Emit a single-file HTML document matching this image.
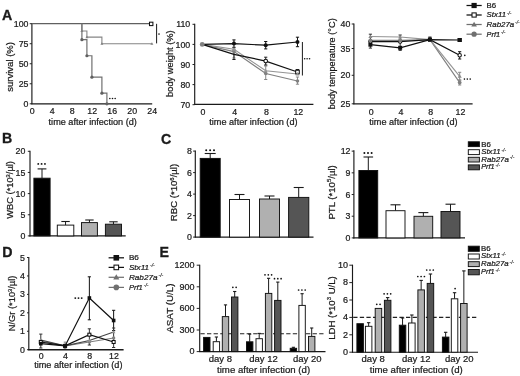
<!DOCTYPE html>
<html><head><meta charset="utf-8"><style>
html,body{margin:0;padding:0;background:#fff;}
svg{display:block;font-family:"Liberation Sans", sans-serif;filter:grayscale(1) blur(0.3px);}
</style></head><body>
<svg width="520" height="376" viewBox="0 0 520 376">
<rect width="520" height="376" fill="#fff"/>
<text x="1.90" y="19.50" font-size="14.2" text-anchor="start" font-weight="bold" font-style="normal" fill="#1a1a1a" stroke="#1a1a1a" stroke-width="0.3">A</text>
<line x1="31.90" y1="23.20" x2="31.90" y2="104.30" stroke="#1a1a1a" stroke-width="1.15"/>
<line x1="29.70" y1="103.80" x2="31.90" y2="103.80" stroke="#1a1a1a" stroke-width="0.95"/>
<text x="28.50" y="106.90" font-size="8.8" text-anchor="end" font-weight="normal" font-style="normal" fill="#1a1a1a" stroke="#1a1a1a" stroke-width="0.22">0</text>
<line x1="29.70" y1="83.77" x2="31.90" y2="83.77" stroke="#1a1a1a" stroke-width="0.95"/>
<text x="28.50" y="86.87" font-size="8.8" text-anchor="end" font-weight="normal" font-style="normal" fill="#1a1a1a" stroke="#1a1a1a" stroke-width="0.22">25</text>
<line x1="29.70" y1="63.75" x2="31.90" y2="63.75" stroke="#1a1a1a" stroke-width="0.95"/>
<text x="28.50" y="66.85" font-size="8.8" text-anchor="end" font-weight="normal" font-style="normal" fill="#1a1a1a" stroke="#1a1a1a" stroke-width="0.22">50</text>
<line x1="29.70" y1="43.72" x2="31.90" y2="43.72" stroke="#1a1a1a" stroke-width="0.95"/>
<text x="28.50" y="46.82" font-size="8.8" text-anchor="end" font-weight="normal" font-style="normal" fill="#1a1a1a" stroke="#1a1a1a" stroke-width="0.22">75</text>
<line x1="29.70" y1="23.70" x2="31.90" y2="23.70" stroke="#1a1a1a" stroke-width="0.95"/>
<text x="28.50" y="26.80" font-size="8.8" text-anchor="end" font-weight="normal" font-style="normal" fill="#1a1a1a" stroke="#1a1a1a" stroke-width="0.22">100</text>
<line x1="31.40" y1="103.80" x2="152.20" y2="103.80" stroke="#1a1a1a" stroke-width="1.15"/>
<text x="32.20" y="114.40" font-size="8.8" text-anchor="middle" font-weight="normal" font-style="normal" fill="#1a1a1a" stroke="#1a1a1a" stroke-width="0.22">0</text>
<text x="52.20" y="114.40" font-size="8.8" text-anchor="middle" font-weight="normal" font-style="normal" fill="#1a1a1a" stroke="#1a1a1a" stroke-width="0.22">4</text>
<text x="72.20" y="114.40" font-size="8.8" text-anchor="middle" font-weight="normal" font-style="normal" fill="#1a1a1a" stroke="#1a1a1a" stroke-width="0.22">8</text>
<text x="92.20" y="114.40" font-size="8.8" text-anchor="middle" font-weight="normal" font-style="normal" fill="#1a1a1a" stroke="#1a1a1a" stroke-width="0.22">12</text>
<text x="112.20" y="114.40" font-size="8.8" text-anchor="middle" font-weight="normal" font-style="normal" fill="#1a1a1a" stroke="#1a1a1a" stroke-width="0.22">16</text>
<text x="132.20" y="114.40" font-size="8.8" text-anchor="middle" font-weight="normal" font-style="normal" fill="#1a1a1a" stroke="#1a1a1a" stroke-width="0.22">20</text>
<text x="152.20" y="114.40" font-size="8.8" text-anchor="middle" font-weight="normal" font-style="normal" fill="#1a1a1a" stroke="#1a1a1a" stroke-width="0.22">24</text>
<text x="92.70" y="124.80" font-size="9.15" text-anchor="middle" font-weight="normal" font-style="normal" fill="#1a1a1a" stroke="#1a1a1a" stroke-width="0.22">time after infection (d)</text>
<text x="13.00" y="66.90" font-size="9.5" text-anchor="middle" font-weight="normal" font-style="normal" fill="#1a1a1a" stroke="#1a1a1a" stroke-width="0.22" transform="rotate(-90 13.00 66.90)">survival (%)</text>
<polyline points="31.90,23.70 151.90,23.70" fill="none" stroke="#606060" stroke-width="1.3" stroke-linejoin="miter"/>
<polyline points="81.90,23.70 81.90,30.99 86.90,30.99 86.90,37.08 101.90,37.08 101.90,43.72 151.90,43.72" fill="none" stroke="#858585" stroke-width="1.1" stroke-linejoin="miter"/>
<polyline points="81.90,23.70 81.90,39.72 86.90,39.72 86.90,55.74 91.90,55.74 91.90,77.13 101.90,77.13 101.90,93.15 106.90,93.15 106.90,103.80" fill="none" stroke="#707070" stroke-width="1.2" stroke-linejoin="miter"/>
<circle cx="81.90" cy="39.72" r="1.60" fill="#606060"/>
<circle cx="86.90" cy="55.74" r="1.60" fill="#606060"/>
<circle cx="91.90" cy="77.13" r="1.60" fill="#606060"/>
<circle cx="101.90" cy="93.15" r="1.60" fill="#606060"/>
<circle cx="106.90" cy="103.80" r="1.60" fill="#606060"/>
<polygon points="81.90,29.49 83.40,32.09 80.41,32.09" fill="#808080"/>
<polygon points="86.90,35.58 88.40,38.18 85.41,38.18" fill="#808080"/>
<polygon points="101.90,42.23 103.40,44.83 100.41,44.83" fill="#808080"/>
<polygon points="151.90,42.23 153.40,44.83 150.41,44.83" fill="#808080"/>
<rect x="149.50" y="22.20" width="3.40" height="3.40" fill="#fff" stroke="#111" stroke-width="1.05"/>
<line x1="156.60" y1="23.80" x2="156.60" y2="43.40" stroke="#1a1a1a" stroke-width="1.0"/>
<circle cx="159.00" cy="34.10" r="0.8" fill="#111"/>
<circle cx="109.85" cy="98.50" r="0.8" fill="#111"/>
<circle cx="112.50" cy="98.50" r="0.8" fill="#111"/>
<circle cx="115.15" cy="98.50" r="0.8" fill="#111"/>
<line x1="194.70" y1="23.80" x2="194.70" y2="104.80" stroke="#1a1a1a" stroke-width="1.15"/>
<line x1="192.50" y1="24.30" x2="194.70" y2="24.30" stroke="#1a1a1a" stroke-width="0.95"/>
<text x="190.20" y="27.40" font-size="8.8" text-anchor="end" font-weight="normal" font-style="normal" fill="#1a1a1a" stroke="#1a1a1a" stroke-width="0.22">110</text>
<line x1="192.50" y1="44.40" x2="194.70" y2="44.40" stroke="#1a1a1a" stroke-width="0.95"/>
<text x="190.20" y="47.50" font-size="8.8" text-anchor="end" font-weight="normal" font-style="normal" fill="#1a1a1a" stroke="#1a1a1a" stroke-width="0.22">100</text>
<line x1="192.50" y1="64.50" x2="194.70" y2="64.50" stroke="#1a1a1a" stroke-width="0.95"/>
<text x="190.20" y="67.60" font-size="8.8" text-anchor="end" font-weight="normal" font-style="normal" fill="#1a1a1a" stroke="#1a1a1a" stroke-width="0.22">90</text>
<line x1="192.50" y1="84.60" x2="194.70" y2="84.60" stroke="#1a1a1a" stroke-width="0.95"/>
<text x="190.20" y="87.70" font-size="8.8" text-anchor="end" font-weight="normal" font-style="normal" fill="#1a1a1a" stroke="#1a1a1a" stroke-width="0.22">80</text>
<line x1="192.50" y1="104.70" x2="194.70" y2="104.70" stroke="#1a1a1a" stroke-width="0.95"/>
<text x="190.20" y="107.80" font-size="8.8" text-anchor="end" font-weight="normal" font-style="normal" fill="#1a1a1a" stroke="#1a1a1a" stroke-width="0.22">70</text>
<line x1="194.20" y1="104.30" x2="313.40" y2="104.30" stroke="#1a1a1a" stroke-width="1.15"/>
<text x="203.00" y="115.40" font-size="8.8" text-anchor="middle" font-weight="normal" font-style="normal" fill="#1a1a1a" stroke="#1a1a1a" stroke-width="0.22">0</text>
<text x="234.76" y="115.40" font-size="8.8" text-anchor="middle" font-weight="normal" font-style="normal" fill="#1a1a1a" stroke="#1a1a1a" stroke-width="0.22">4</text>
<text x="266.52" y="115.40" font-size="8.8" text-anchor="middle" font-weight="normal" font-style="normal" fill="#1a1a1a" stroke="#1a1a1a" stroke-width="0.22">8</text>
<text x="298.28" y="115.40" font-size="8.8" text-anchor="middle" font-weight="normal" font-style="normal" fill="#1a1a1a" stroke="#1a1a1a" stroke-width="0.22">12</text>
<text x="253.40" y="124.80" font-size="9.15" text-anchor="middle" font-weight="normal" font-style="normal" fill="#1a1a1a" stroke="#1a1a1a" stroke-width="0.22">time after infection (d)</text>
<text x="173.00" y="63.60" font-size="9.3" text-anchor="middle" font-weight="normal" font-style="normal" fill="#1a1a1a" stroke="#1a1a1a" stroke-width="0.22" transform="rotate(-90 173.00 63.60)">body weight (%)</text>
<line x1="233.96" y1="48.00" x2="233.96" y2="58.00" stroke="#888" stroke-width="1.0"/>
<line x1="232.36" y1="48.00" x2="235.56" y2="48.00" stroke="#888" stroke-width="1.0"/>
<line x1="232.36" y1="58.00" x2="235.56" y2="58.00" stroke="#888" stroke-width="1.0"/>
<line x1="265.72" y1="66.00" x2="265.72" y2="79.50" stroke="#888" stroke-width="1.0"/>
<line x1="264.12" y1="66.00" x2="267.32" y2="66.00" stroke="#888" stroke-width="1.0"/>
<line x1="264.12" y1="79.50" x2="267.32" y2="79.50" stroke="#888" stroke-width="1.0"/>
<line x1="297.48" y1="77.00" x2="297.48" y2="84.20" stroke="#888" stroke-width="1.0"/>
<line x1="295.88" y1="77.00" x2="299.08" y2="77.00" stroke="#888" stroke-width="1.0"/>
<line x1="295.88" y1="84.20" x2="299.08" y2="84.20" stroke="#888" stroke-width="1.0"/>
<line x1="233.96" y1="50.00" x2="233.96" y2="59.50" stroke="#222" stroke-width="1.0"/>
<line x1="232.36" y1="50.00" x2="235.56" y2="50.00" stroke="#222" stroke-width="1.0"/>
<line x1="232.36" y1="59.50" x2="235.56" y2="59.50" stroke="#222" stroke-width="1.0"/>
<line x1="265.72" y1="57.20" x2="265.72" y2="65.00" stroke="#222" stroke-width="1.0"/>
<line x1="264.12" y1="57.20" x2="267.32" y2="57.20" stroke="#222" stroke-width="1.0"/>
<line x1="264.12" y1="65.00" x2="267.32" y2="65.00" stroke="#222" stroke-width="1.0"/>
<line x1="297.48" y1="69.50" x2="297.48" y2="74.50" stroke="#222" stroke-width="1.0"/>
<line x1="295.88" y1="69.50" x2="299.08" y2="69.50" stroke="#222" stroke-width="1.0"/>
<line x1="295.88" y1="74.50" x2="299.08" y2="74.50" stroke="#222" stroke-width="1.0"/>
<line x1="233.96" y1="39.90" x2="233.96" y2="47.30" stroke="#111" stroke-width="1.0"/>
<line x1="232.36" y1="39.90" x2="235.56" y2="39.90" stroke="#111" stroke-width="1.0"/>
<line x1="232.36" y1="47.30" x2="235.56" y2="47.30" stroke="#111" stroke-width="1.0"/>
<line x1="265.72" y1="41.50" x2="265.72" y2="48.90" stroke="#111" stroke-width="1.0"/>
<line x1="264.12" y1="41.50" x2="267.32" y2="41.50" stroke="#111" stroke-width="1.0"/>
<line x1="264.12" y1="48.90" x2="267.32" y2="48.90" stroke="#111" stroke-width="1.0"/>
<line x1="297.48" y1="37.20" x2="297.48" y2="46.70" stroke="#111" stroke-width="1.0"/>
<line x1="295.88" y1="37.20" x2="299.08" y2="37.20" stroke="#111" stroke-width="1.0"/>
<line x1="295.88" y1="46.70" x2="299.08" y2="46.70" stroke="#111" stroke-width="1.0"/>
<polyline points="202.20,44.40 233.96,51.60 265.72,73.50 297.48,81.00" fill="none" stroke="#808080" stroke-width="1.1" stroke-linejoin="miter"/>
<polyline points="202.20,44.40 233.96,49.20 265.72,70.70 297.48,74.00" fill="none" stroke="#949494" stroke-width="1.1" stroke-linejoin="miter"/>
<polyline points="202.20,44.40 233.96,54.30 265.72,61.10 297.48,72.00" fill="none" stroke="#111" stroke-width="1.2" stroke-linejoin="miter"/>
<polyline points="202.20,44.40 233.96,43.60 265.72,45.20 297.48,42.00" fill="none" stroke="#111" stroke-width="1.2" stroke-linejoin="miter"/>
<circle cx="265.72" cy="61.10" r="1.80" fill="#fff" stroke="#111" stroke-width="1.05"/>
<rect x="295.68" y="70.20" width="3.60" height="3.60" fill="#fff" stroke="#111" stroke-width="1.05"/>
<circle cx="233.96" cy="51.60" r="1.80" fill="#808080"/>
<circle cx="265.72" cy="73.50" r="1.80" fill="#808080"/>
<circle cx="297.48" cy="81.00" r="1.80" fill="#808080"/>
<polygon points="233.96,47.25 235.91,50.65 232.00,50.65" fill="#949494"/>
<polygon points="265.72,68.75 267.67,72.14 263.76,72.14" fill="#949494"/>
<polygon points="297.48,72.05 299.44,75.44 295.53,75.44" fill="#949494"/>
<circle cx="233.96" cy="43.60" r="2.00" fill="#111"/>
<circle cx="265.72" cy="45.20" r="2.00" fill="#111"/>
<circle cx="297.48" cy="42.00" r="2.00" fill="#111"/>
<circle cx="202.20" cy="44.40" r="2.40" fill="#808080"/>
<line x1="302.40" y1="42.00" x2="302.40" y2="75.50" stroke="#1a1a1a" stroke-width="1.0"/>
<circle cx="304.65" cy="58.80" r="0.8" fill="#111"/>
<circle cx="307.10" cy="58.80" r="0.8" fill="#111"/>
<circle cx="309.55" cy="58.80" r="0.8" fill="#111"/>
<line x1="353.90" y1="23.50" x2="353.90" y2="104.30" stroke="#1a1a1a" stroke-width="1.15"/>
<line x1="351.70" y1="24.00" x2="353.90" y2="24.00" stroke="#1a1a1a" stroke-width="0.95"/>
<text x="350.40" y="27.10" font-size="8.8" text-anchor="end" font-weight="normal" font-style="normal" fill="#1a1a1a" stroke="#1a1a1a" stroke-width="0.22">40</text>
<line x1="351.70" y1="48.50" x2="353.90" y2="48.50" stroke="#1a1a1a" stroke-width="0.95"/>
<text x="350.40" y="51.60" font-size="8.8" text-anchor="end" font-weight="normal" font-style="normal" fill="#1a1a1a" stroke="#1a1a1a" stroke-width="0.22">35</text>
<line x1="351.70" y1="75.30" x2="353.90" y2="75.30" stroke="#1a1a1a" stroke-width="0.95"/>
<text x="350.40" y="78.40" font-size="8.8" text-anchor="end" font-weight="normal" font-style="normal" fill="#1a1a1a" stroke="#1a1a1a" stroke-width="0.22">20</text>
<line x1="351.70" y1="103.80" x2="353.90" y2="103.80" stroke="#1a1a1a" stroke-width="0.95"/>
<text x="350.40" y="106.90" font-size="8.8" text-anchor="end" font-weight="normal" font-style="normal" fill="#1a1a1a" stroke="#1a1a1a" stroke-width="0.22">25</text>
<line x1="353.40" y1="103.80" x2="472.60" y2="103.80" stroke="#1a1a1a" stroke-width="1.15"/>
<text x="371.20" y="114.80" font-size="8.8" text-anchor="middle" font-weight="normal" font-style="normal" fill="#1a1a1a" stroke="#1a1a1a" stroke-width="0.22">0</text>
<text x="400.96" y="114.80" font-size="8.8" text-anchor="middle" font-weight="normal" font-style="normal" fill="#1a1a1a" stroke="#1a1a1a" stroke-width="0.22">4</text>
<text x="430.72" y="114.80" font-size="8.8" text-anchor="middle" font-weight="normal" font-style="normal" fill="#1a1a1a" stroke="#1a1a1a" stroke-width="0.22">8</text>
<text x="460.48" y="114.80" font-size="8.8" text-anchor="middle" font-weight="normal" font-style="normal" fill="#1a1a1a" stroke="#1a1a1a" stroke-width="0.22">12</text>
<text x="413.40" y="124.80" font-size="9.15" text-anchor="middle" font-weight="normal" font-style="normal" fill="#1a1a1a" stroke="#1a1a1a" stroke-width="0.22">time after infection (d)</text>
<text x="335.00" y="63.80" font-size="9.2" text-anchor="middle" font-weight="normal" font-style="normal" fill="#1a1a1a" stroke="#1a1a1a" stroke-width="0.22" transform="rotate(-90 335.00 63.80)">body temperature (°C)</text>
<line x1="370.40" y1="34.20" x2="370.40" y2="48.10" stroke="#333" stroke-width="1.0"/>
<line x1="368.80" y1="34.20" x2="372.00" y2="34.20" stroke="#333" stroke-width="1.0"/>
<line x1="368.80" y1="48.10" x2="372.00" y2="48.10" stroke="#333" stroke-width="1.0"/>
<line x1="400.16" y1="35.00" x2="400.16" y2="50.40" stroke="#333" stroke-width="1.0"/>
<line x1="398.56" y1="35.00" x2="401.76" y2="35.00" stroke="#333" stroke-width="1.0"/>
<line x1="398.56" y1="50.40" x2="401.76" y2="50.40" stroke="#333" stroke-width="1.0"/>
<line x1="429.92" y1="37.00" x2="429.92" y2="41.50" stroke="#333" stroke-width="1.0"/>
<line x1="428.32" y1="37.00" x2="431.52" y2="37.00" stroke="#333" stroke-width="1.0"/>
<line x1="428.32" y1="41.50" x2="431.52" y2="41.50" stroke="#333" stroke-width="1.0"/>
<line x1="459.68" y1="51.70" x2="459.68" y2="59.00" stroke="#111" stroke-width="1.0"/>
<line x1="458.08" y1="51.70" x2="461.28" y2="51.70" stroke="#111" stroke-width="1.0"/>
<line x1="458.08" y1="59.00" x2="461.28" y2="59.00" stroke="#111" stroke-width="1.0"/>
<line x1="459.68" y1="72.30" x2="459.68" y2="80.00" stroke="#888" stroke-width="1.0"/>
<line x1="458.08" y1="72.30" x2="461.28" y2="72.30" stroke="#888" stroke-width="1.0"/>
<line x1="458.08" y1="80.00" x2="461.28" y2="80.00" stroke="#888" stroke-width="1.0"/>
<line x1="459.68" y1="80.20" x2="459.68" y2="85.00" stroke="#888" stroke-width="1.0"/>
<line x1="458.08" y1="80.20" x2="461.28" y2="80.20" stroke="#888" stroke-width="1.0"/>
<line x1="458.08" y1="85.00" x2="461.28" y2="85.00" stroke="#888" stroke-width="1.0"/>
<polyline points="370.40,40.40 400.16,40.40 429.92,39.60 459.68,82.60" fill="none" stroke="#808080" stroke-width="1.1" stroke-linejoin="miter"/>
<polyline points="370.40,36.50 400.16,37.00 429.92,39.60 459.68,76.30" fill="none" stroke="#949494" stroke-width="1.1" stroke-linejoin="miter"/>
<polyline points="370.40,41.60 400.16,41.60 429.92,39.60 459.68,55.20" fill="none" stroke="#111" stroke-width="1.2" stroke-linejoin="miter"/>
<polyline points="370.40,44.70 400.16,47.80 429.92,39.60 459.68,40.00" fill="none" stroke="#111" stroke-width="1.2" stroke-linejoin="miter"/>
<circle cx="370.40" cy="41.60" r="1.70" fill="#fff" stroke="#111" stroke-width="1.05"/>
<circle cx="400.16" cy="41.60" r="1.70" fill="#fff" stroke="#111" stroke-width="1.05"/>
<circle cx="429.92" cy="39.60" r="1.70" fill="#fff" stroke="#111" stroke-width="1.05"/>
<circle cx="459.68" cy="55.20" r="1.70" fill="#fff" stroke="#111" stroke-width="1.05"/>
<circle cx="370.40" cy="40.40" r="1.90" fill="#808080"/>
<circle cx="400.16" cy="40.40" r="1.90" fill="#808080"/>
<circle cx="429.92" cy="39.60" r="1.90" fill="#808080"/>
<circle cx="459.68" cy="82.60" r="1.90" fill="#808080"/>
<polygon points="370.40,34.43 372.47,38.03 368.33,38.03" fill="#8a8a8a"/>
<polygon points="400.16,34.93 402.23,38.53 398.09,38.53" fill="#8a8a8a"/>
<polygon points="429.92,37.53 431.99,41.13 427.85,41.13" fill="#8a8a8a"/>
<polygon points="459.68,74.23 461.75,77.83 457.61,77.83" fill="#8a8a8a"/>
<rect x="368.40" y="42.70" width="4.00" height="4.00" fill="#111"/>
<rect x="398.16" y="45.80" width="4.00" height="4.00" fill="#111"/>
<rect x="427.92" y="37.60" width="4.00" height="4.00" fill="#111"/>
<rect x="457.68" y="38.00" width="4.00" height="4.00" fill="#111"/>
<rect x="457.68" y="38.00" width="4.00" height="4.00" fill="#111"/>
<circle cx="464.80" cy="55.40" r="0.8" fill="#111"/>
<circle cx="464.40" cy="79.10" r="0.8" fill="#111"/>
<circle cx="467.30" cy="79.10" r="0.8" fill="#111"/>
<circle cx="470.20" cy="79.10" r="0.8" fill="#111"/>
<line x1="466.50" y1="5.50" x2="481.70" y2="5.50" stroke="#111" stroke-width="1.25"/>
<rect x="471.50" y="2.90" width="5.20" height="5.20" fill="#111"/>
<text x="486.60" y="7.80" font-size="7.4" font-style="normal" fill="#1a1a1a" stroke="#1a1a1a" stroke-width="0.22" textLength="9.60" lengthAdjust="spacingAndGlyphs">B6</text>
<line x1="466.50" y1="15.00" x2="481.70" y2="15.00" stroke="#111" stroke-width="1.25"/>
<rect x="472.00" y="12.90" width="4.20" height="4.20" fill="#fff" stroke="#111" stroke-width="1.05"/>
<text x="486.60" y="17.30" font-size="7.4" font-style="italic" fill="#1a1a1a" stroke="#1a1a1a" stroke-width="0.22" textLength="19.40" lengthAdjust="spacingAndGlyphs">Stx11</text>
<text x="506.90" y="14.80" font-size="4.88" font-style="italic" fill="#1a1a1a" stroke="#1a1a1a" stroke-width="0.15">-/-</text>
<line x1="466.50" y1="24.50" x2="481.70" y2="24.50" stroke="#707070" stroke-width="1.25"/>
<polygon points="474.10,21.66 476.94,26.60 471.26,26.60" fill="#707070"/>
<text x="486.60" y="26.80" font-size="7.4" font-style="italic" fill="#1a1a1a" stroke="#1a1a1a" stroke-width="0.22" textLength="27.60" lengthAdjust="spacingAndGlyphs">Rab27a</text>
<text x="515.10" y="24.30" font-size="4.88" font-style="italic" fill="#1a1a1a" stroke="#1a1a1a" stroke-width="0.15">-/-</text>
<line x1="466.50" y1="34.20" x2="481.70" y2="34.20" stroke="#707070" stroke-width="1.25"/>
<circle cx="474.10" cy="34.20" r="2.60" fill="#707070"/>
<text x="486.60" y="36.50" font-size="7.4" font-style="italic" fill="#1a1a1a" stroke="#1a1a1a" stroke-width="0.22" textLength="13.40" lengthAdjust="spacingAndGlyphs">Prf1</text>
<text x="500.90" y="34.00" font-size="4.88" font-style="italic" fill="#1a1a1a" stroke="#1a1a1a" stroke-width="0.15">-/-</text>
<text x="1.90" y="142.60" font-size="14.2" text-anchor="start" font-weight="bold" font-style="normal" fill="#1a1a1a" stroke="#1a1a1a" stroke-width="0.3">B</text>
<line x1="30.00" y1="150.80" x2="30.00" y2="236.40" stroke="#1a1a1a" stroke-width="1.15"/>
<line x1="27.80" y1="235.90" x2="30.00" y2="235.90" stroke="#1a1a1a" stroke-width="0.95"/>
<text x="25.40" y="239.00" font-size="8.8" text-anchor="end" font-weight="normal" font-style="normal" fill="#1a1a1a" stroke="#1a1a1a" stroke-width="0.22">0</text>
<line x1="27.80" y1="214.75" x2="30.00" y2="214.75" stroke="#1a1a1a" stroke-width="0.95"/>
<text x="25.40" y="217.85" font-size="8.8" text-anchor="end" font-weight="normal" font-style="normal" fill="#1a1a1a" stroke="#1a1a1a" stroke-width="0.22">5</text>
<line x1="27.80" y1="193.60" x2="30.00" y2="193.60" stroke="#1a1a1a" stroke-width="0.95"/>
<text x="25.40" y="196.70" font-size="8.8" text-anchor="end" font-weight="normal" font-style="normal" fill="#1a1a1a" stroke="#1a1a1a" stroke-width="0.22">10</text>
<line x1="27.80" y1="172.45" x2="30.00" y2="172.45" stroke="#1a1a1a" stroke-width="0.95"/>
<text x="25.40" y="175.55" font-size="8.8" text-anchor="end" font-weight="normal" font-style="normal" fill="#1a1a1a" stroke="#1a1a1a" stroke-width="0.22">15</text>
<line x1="27.80" y1="151.30" x2="30.00" y2="151.30" stroke="#1a1a1a" stroke-width="0.95"/>
<text x="25.40" y="154.40" font-size="8.8" text-anchor="end" font-weight="normal" font-style="normal" fill="#1a1a1a" stroke="#1a1a1a" stroke-width="0.22">20</text>
<line x1="29.50" y1="235.90" x2="125.70" y2="235.90" stroke="#1a1a1a" stroke-width="1.15"/>
<line x1="42.00" y1="168.90" x2="42.00" y2="178.20" stroke="#1a1a1a" stroke-width="1.0"/>
<line x1="37.60" y1="168.90" x2="46.40" y2="168.90" stroke="#1a1a1a" stroke-width="1.1"/>
<rect x="33.90" y="178.20" width="16.20" height="57.70" fill="#000" stroke="#111" stroke-width="0.95"/>
<line x1="65.55" y1="221.50" x2="65.55" y2="225.10" stroke="#1a1a1a" stroke-width="1.0"/>
<line x1="61.35" y1="221.50" x2="69.75" y2="221.50" stroke="#1a1a1a" stroke-width="1.1"/>
<rect x="57.30" y="225.10" width="16.50" height="10.80" fill="#fff" stroke="#111" stroke-width="0.95"/>
<line x1="89.45" y1="220.00" x2="89.45" y2="222.60" stroke="#1a1a1a" stroke-width="1.0"/>
<line x1="85.25" y1="220.00" x2="93.65" y2="220.00" stroke="#1a1a1a" stroke-width="1.1"/>
<rect x="81.50" y="222.60" width="15.90" height="13.30" fill="#b0b0b0" stroke="#111" stroke-width="0.95"/>
<line x1="113.45" y1="221.80" x2="113.45" y2="224.20" stroke="#1a1a1a" stroke-width="1.0"/>
<line x1="109.25" y1="221.80" x2="117.65" y2="221.80" stroke="#1a1a1a" stroke-width="1.1"/>
<rect x="105.40" y="224.20" width="16.10" height="11.70" fill="#555555" stroke="#111" stroke-width="0.95"/>
<circle cx="38.25" cy="163.90" r="0.95" fill="#111"/>
<circle cx="41.60" cy="163.90" r="0.95" fill="#111"/>
<circle cx="44.95" cy="163.90" r="0.95" fill="#111"/>
<text x="12.90" y="189.90" font-size="9.3" text-anchor="middle" fill="#1a1a1a" stroke="#1a1a1a" stroke-width="0.22" transform="rotate(-90 12.90 189.90)">WBC (*10<tspan font-size="5.77" dy="-3.35">3</tspan><tspan dy="3.35">/µl)</tspan></text>
<text x="161.00" y="143.60" font-size="14.2" text-anchor="start" font-weight="bold" font-style="normal" fill="#1a1a1a" stroke="#1a1a1a" stroke-width="0.3">C</text>
<line x1="195.30" y1="150.60" x2="195.30" y2="237.60" stroke="#1a1a1a" stroke-width="1.15"/>
<line x1="193.10" y1="237.10" x2="195.30" y2="237.10" stroke="#1a1a1a" stroke-width="0.95"/>
<text x="191.90" y="240.20" font-size="8.8" text-anchor="end" font-weight="normal" font-style="normal" fill="#1a1a1a" stroke="#1a1a1a" stroke-width="0.22">0</text>
<line x1="193.10" y1="215.60" x2="195.30" y2="215.60" stroke="#1a1a1a" stroke-width="0.95"/>
<text x="191.90" y="218.70" font-size="8.8" text-anchor="end" font-weight="normal" font-style="normal" fill="#1a1a1a" stroke="#1a1a1a" stroke-width="0.22">2</text>
<line x1="193.10" y1="194.10" x2="195.30" y2="194.10" stroke="#1a1a1a" stroke-width="0.95"/>
<text x="191.90" y="197.20" font-size="8.8" text-anchor="end" font-weight="normal" font-style="normal" fill="#1a1a1a" stroke="#1a1a1a" stroke-width="0.22">4</text>
<line x1="193.10" y1="172.60" x2="195.30" y2="172.60" stroke="#1a1a1a" stroke-width="0.95"/>
<text x="191.90" y="175.70" font-size="8.8" text-anchor="end" font-weight="normal" font-style="normal" fill="#1a1a1a" stroke="#1a1a1a" stroke-width="0.22">6</text>
<line x1="193.10" y1="151.10" x2="195.30" y2="151.10" stroke="#1a1a1a" stroke-width="0.95"/>
<text x="191.90" y="154.20" font-size="8.8" text-anchor="end" font-weight="normal" font-style="normal" fill="#1a1a1a" stroke="#1a1a1a" stroke-width="0.22">8</text>
<line x1="194.80" y1="237.10" x2="313.50" y2="237.10" stroke="#1a1a1a" stroke-width="1.15"/>
<line x1="210.20" y1="153.50" x2="210.20" y2="158.40" stroke="#1a1a1a" stroke-width="1.0"/>
<line x1="204.70" y1="153.50" x2="215.70" y2="153.50" stroke="#1a1a1a" stroke-width="1.1"/>
<rect x="200.20" y="158.40" width="20.00" height="78.70" fill="#000" stroke="#111" stroke-width="0.95"/>
<line x1="239.50" y1="194.50" x2="239.50" y2="199.50" stroke="#1a1a1a" stroke-width="1.0"/>
<line x1="234.50" y1="194.50" x2="244.50" y2="194.50" stroke="#1a1a1a" stroke-width="1.1"/>
<rect x="229.50" y="199.50" width="20.00" height="37.60" fill="#fff" stroke="#111" stroke-width="0.95"/>
<line x1="269.50" y1="196.00" x2="269.50" y2="199.00" stroke="#1a1a1a" stroke-width="1.0"/>
<line x1="264.50" y1="196.00" x2="274.50" y2="196.00" stroke="#1a1a1a" stroke-width="1.1"/>
<rect x="259.50" y="199.00" width="20.00" height="38.10" fill="#b0b0b0" stroke="#111" stroke-width="0.95"/>
<line x1="298.70" y1="187.50" x2="298.70" y2="197.40" stroke="#1a1a1a" stroke-width="1.0"/>
<line x1="293.70" y1="187.50" x2="303.70" y2="187.50" stroke="#1a1a1a" stroke-width="1.1"/>
<rect x="288.60" y="197.40" width="20.20" height="39.70" fill="#555555" stroke="#111" stroke-width="0.95"/>
<circle cx="206.20" cy="150.20" r="1.0" fill="#111"/>
<circle cx="210.10" cy="150.20" r="1.0" fill="#111"/>
<circle cx="214.00" cy="150.20" r="1.0" fill="#111"/>
<text x="177.30" y="192.50" font-size="9.6" text-anchor="middle" fill="#1a1a1a" stroke="#1a1a1a" stroke-width="0.22" transform="rotate(-90 177.30 192.50)">RBC (*10<tspan font-size="5.95" dy="-3.46">6</tspan><tspan dy="3.46">/µl)</tspan></text>
<line x1="353.90" y1="150.30" x2="353.90" y2="238.40" stroke="#1a1a1a" stroke-width="1.15"/>
<line x1="351.70" y1="237.90" x2="353.90" y2="237.90" stroke="#1a1a1a" stroke-width="0.95"/>
<text x="350.50" y="241.00" font-size="8.8" text-anchor="end" font-weight="normal" font-style="normal" fill="#1a1a1a" stroke="#1a1a1a" stroke-width="0.22">0</text>
<line x1="351.70" y1="216.21" x2="353.90" y2="216.21" stroke="#1a1a1a" stroke-width="0.95"/>
<text x="350.50" y="219.31" font-size="8.8" text-anchor="end" font-weight="normal" font-style="normal" fill="#1a1a1a" stroke="#1a1a1a" stroke-width="0.22">3</text>
<line x1="351.70" y1="194.52" x2="353.90" y2="194.52" stroke="#1a1a1a" stroke-width="0.95"/>
<text x="350.50" y="197.62" font-size="8.8" text-anchor="end" font-weight="normal" font-style="normal" fill="#1a1a1a" stroke="#1a1a1a" stroke-width="0.22">6</text>
<line x1="351.70" y1="172.83" x2="353.90" y2="172.83" stroke="#1a1a1a" stroke-width="0.95"/>
<text x="350.50" y="175.93" font-size="8.8" text-anchor="end" font-weight="normal" font-style="normal" fill="#1a1a1a" stroke="#1a1a1a" stroke-width="0.22">9</text>
<line x1="351.70" y1="151.14" x2="353.90" y2="151.14" stroke="#1a1a1a" stroke-width="0.95"/>
<text x="350.50" y="154.24" font-size="8.8" text-anchor="end" font-weight="normal" font-style="normal" fill="#1a1a1a" stroke="#1a1a1a" stroke-width="0.22">12</text>
<line x1="353.40" y1="237.90" x2="465.00" y2="237.90" stroke="#1a1a1a" stroke-width="1.15"/>
<line x1="368.30" y1="157.00" x2="368.30" y2="170.50" stroke="#1a1a1a" stroke-width="1.0"/>
<line x1="363.50" y1="157.00" x2="373.10" y2="157.00" stroke="#1a1a1a" stroke-width="1.1"/>
<rect x="358.90" y="170.50" width="18.80" height="67.40" fill="#000" stroke="#111" stroke-width="0.95"/>
<line x1="395.50" y1="204.80" x2="395.50" y2="210.70" stroke="#1a1a1a" stroke-width="1.0"/>
<line x1="390.50" y1="204.80" x2="400.50" y2="204.80" stroke="#1a1a1a" stroke-width="1.1"/>
<rect x="386.00" y="210.70" width="19.00" height="27.20" fill="#fff" stroke="#111" stroke-width="0.95"/>
<line x1="423.35" y1="212.60" x2="423.35" y2="216.30" stroke="#1a1a1a" stroke-width="1.0"/>
<line x1="418.35" y1="212.60" x2="428.35" y2="212.60" stroke="#1a1a1a" stroke-width="1.1"/>
<rect x="414.00" y="216.30" width="18.70" height="21.60" fill="#b0b0b0" stroke="#111" stroke-width="0.95"/>
<line x1="450.50" y1="204.20" x2="450.50" y2="211.50" stroke="#1a1a1a" stroke-width="1.0"/>
<line x1="445.50" y1="204.20" x2="455.50" y2="204.20" stroke="#1a1a1a" stroke-width="1.1"/>
<rect x="441.00" y="211.50" width="19.00" height="26.40" fill="#555555" stroke="#111" stroke-width="0.95"/>
<circle cx="364.40" cy="153.00" r="1.0" fill="#111"/>
<circle cx="368.00" cy="153.00" r="1.0" fill="#111"/>
<circle cx="371.60" cy="153.00" r="1.0" fill="#111"/>
<text x="334.90" y="192.40" font-size="9.6" text-anchor="middle" fill="#1a1a1a" stroke="#1a1a1a" stroke-width="0.22" transform="rotate(-90 334.90 192.40)">PTL (*10<tspan font-size="5.95" dy="-3.46">5</tspan><tspan dy="3.46">/µl)</tspan></text>
<rect x="468.30" y="141.80" width="11.10" height="4.80" fill="#000" stroke="#111" stroke-width="0.95"/>
<text x="481.20" y="146.90" font-size="7.4" font-style="normal" fill="#1a1a1a" stroke="#1a1a1a" stroke-width="0.22" textLength="9.60" lengthAdjust="spacingAndGlyphs">B6</text>
<rect x="468.30" y="149.70" width="11.10" height="4.90" fill="#fff" stroke="#111" stroke-width="0.95"/>
<text x="481.20" y="154.05" font-size="7.4" font-style="italic" fill="#1a1a1a" stroke="#1a1a1a" stroke-width="0.22" textLength="19.40" lengthAdjust="spacingAndGlyphs">Stx11</text>
<text x="501.50" y="151.55" font-size="4.88" font-style="italic" fill="#1a1a1a" stroke="#1a1a1a" stroke-width="0.15">-/-</text>
<rect x="468.30" y="157.30" width="11.10" height="4.70" fill="#b0b0b0" stroke="#111" stroke-width="0.95"/>
<text x="481.20" y="161.55" font-size="7.4" font-style="italic" fill="#1a1a1a" stroke="#1a1a1a" stroke-width="0.22" textLength="27.60" lengthAdjust="spacingAndGlyphs">Rab27a</text>
<text x="509.70" y="159.05" font-size="4.88" font-style="italic" fill="#1a1a1a" stroke="#1a1a1a" stroke-width="0.15">-/-</text>
<rect x="468.30" y="164.90" width="11.10" height="4.90" fill="#555555" stroke="#111" stroke-width="0.95"/>
<text x="481.20" y="169.25" font-size="7.4" font-style="italic" fill="#1a1a1a" stroke="#1a1a1a" stroke-width="0.22" textLength="13.40" lengthAdjust="spacingAndGlyphs">Prf1</text>
<text x="495.50" y="166.75" font-size="4.88" font-style="italic" fill="#1a1a1a" stroke="#1a1a1a" stroke-width="0.15">-/-</text>
<text x="2.20" y="256.80" font-size="14.2" text-anchor="start" font-weight="bold" font-style="normal" fill="#1a1a1a" stroke="#1a1a1a" stroke-width="0.3">D</text>
<line x1="28.80" y1="257.00" x2="28.80" y2="350.20" stroke="#1a1a1a" stroke-width="1.15"/>
<line x1="27.00" y1="349.70" x2="28.80" y2="349.70" stroke="#1a1a1a" stroke-width="0.95"/>
<text x="25.00" y="352.80" font-size="8.8" text-anchor="end" font-weight="normal" font-style="normal" fill="#1a1a1a" stroke="#1a1a1a" stroke-width="0.22">0</text>
<line x1="27.00" y1="331.26" x2="28.80" y2="331.26" stroke="#1a1a1a" stroke-width="0.95"/>
<text x="25.00" y="334.36" font-size="8.8" text-anchor="end" font-weight="normal" font-style="normal" fill="#1a1a1a" stroke="#1a1a1a" stroke-width="0.22">1</text>
<line x1="27.00" y1="312.82" x2="28.80" y2="312.82" stroke="#1a1a1a" stroke-width="0.95"/>
<text x="25.00" y="315.92" font-size="8.8" text-anchor="end" font-weight="normal" font-style="normal" fill="#1a1a1a" stroke="#1a1a1a" stroke-width="0.22">2</text>
<line x1="27.00" y1="294.38" x2="28.80" y2="294.38" stroke="#1a1a1a" stroke-width="0.95"/>
<text x="25.00" y="297.48" font-size="8.8" text-anchor="end" font-weight="normal" font-style="normal" fill="#1a1a1a" stroke="#1a1a1a" stroke-width="0.22">3</text>
<line x1="27.00" y1="275.94" x2="28.80" y2="275.94" stroke="#1a1a1a" stroke-width="0.95"/>
<text x="25.00" y="279.04" font-size="8.8" text-anchor="end" font-weight="normal" font-style="normal" fill="#1a1a1a" stroke="#1a1a1a" stroke-width="0.22">4</text>
<line x1="27.00" y1="257.50" x2="28.80" y2="257.50" stroke="#1a1a1a" stroke-width="0.95"/>
<text x="25.00" y="260.60" font-size="8.8" text-anchor="end" font-weight="normal" font-style="normal" fill="#1a1a1a" stroke="#1a1a1a" stroke-width="0.22">5</text>
<line x1="28.30" y1="349.70" x2="123.60" y2="349.70" stroke="#1a1a1a" stroke-width="1.5"/>
<text x="41.10" y="358.80" font-size="8.8" text-anchor="middle" font-weight="normal" font-style="normal" fill="#1a1a1a" stroke="#1a1a1a" stroke-width="0.22">0</text>
<text x="65.38" y="358.80" font-size="8.8" text-anchor="middle" font-weight="normal" font-style="normal" fill="#1a1a1a" stroke="#1a1a1a" stroke-width="0.22">4</text>
<text x="89.66" y="358.80" font-size="8.8" text-anchor="middle" font-weight="normal" font-style="normal" fill="#1a1a1a" stroke="#1a1a1a" stroke-width="0.22">8</text>
<text x="113.94" y="358.80" font-size="8.8" text-anchor="middle" font-weight="normal" font-style="normal" fill="#1a1a1a" stroke="#1a1a1a" stroke-width="0.22">12</text>
<text x="78.30" y="368.40" font-size="9.15" text-anchor="middle" font-weight="normal" font-style="normal" fill="#1a1a1a" stroke="#1a1a1a" stroke-width="0.22">time after infection (d)</text>
<text x="15.40" y="303.40" font-size="9.3" text-anchor="middle" fill="#1a1a1a" stroke="#1a1a1a" stroke-width="0.22" transform="rotate(-90 15.40 303.40)">N/Gr (*10<tspan font-size="5.77" dy="-3.35">3</tspan><tspan dy="3.35">/µl)</tspan></text>
<line x1="40.80" y1="334.10" x2="40.80" y2="348.00" stroke="#333" stroke-width="1.0"/>
<line x1="39.20" y1="334.10" x2="42.40" y2="334.10" stroke="#333" stroke-width="1.0"/>
<line x1="39.20" y1="348.00" x2="42.40" y2="348.00" stroke="#333" stroke-width="1.0"/>
<line x1="65.08" y1="342.10" x2="65.08" y2="348.50" stroke="#888" stroke-width="1.0"/>
<line x1="63.68" y1="342.10" x2="66.48" y2="342.10" stroke="#888" stroke-width="1.0"/>
<line x1="63.68" y1="348.50" x2="66.48" y2="348.50" stroke="#888" stroke-width="1.0"/>
<line x1="89.36" y1="276.80" x2="89.36" y2="319.80" stroke="#111" stroke-width="1.0"/>
<line x1="87.76" y1="276.80" x2="90.96" y2="276.80" stroke="#111" stroke-width="1.0"/>
<line x1="87.76" y1="319.80" x2="90.96" y2="319.80" stroke="#111" stroke-width="1.0"/>
<line x1="89.36" y1="328.80" x2="89.36" y2="345.00" stroke="#333" stroke-width="1.0"/>
<line x1="87.76" y1="328.80" x2="90.96" y2="328.80" stroke="#333" stroke-width="1.0"/>
<line x1="87.76" y1="345.00" x2="90.96" y2="345.00" stroke="#333" stroke-width="1.0"/>
<line x1="113.64" y1="310.30" x2="113.64" y2="330.60" stroke="#111" stroke-width="1.0"/>
<line x1="112.04" y1="310.30" x2="115.24" y2="310.30" stroke="#111" stroke-width="1.0"/>
<line x1="112.04" y1="330.60" x2="115.24" y2="330.60" stroke="#111" stroke-width="1.0"/>
<line x1="113.64" y1="328.00" x2="113.64" y2="347.50" stroke="#333" stroke-width="1.0"/>
<line x1="112.04" y1="328.00" x2="115.24" y2="328.00" stroke="#333" stroke-width="1.0"/>
<line x1="112.04" y1="347.50" x2="115.24" y2="347.50" stroke="#333" stroke-width="1.0"/>
<polyline points="40.80,341.00 65.08,345.90 89.36,342.00 113.64,338.00" fill="none" stroke="#808080" stroke-width="1.1" stroke-linejoin="miter"/>
<polyline points="40.80,340.00 65.08,345.90 89.36,340.50 113.64,332.00" fill="none" stroke="#444" stroke-width="1.1" stroke-linejoin="miter"/>
<polyline points="40.80,342.00 65.08,345.90 89.36,334.70 113.64,342.00" fill="none" stroke="#111" stroke-width="1.2" stroke-linejoin="miter"/>
<polyline points="40.80,343.70 65.08,345.90 89.36,298.00 113.64,320.50" fill="none" stroke="#111" stroke-width="1.2" stroke-linejoin="miter"/>
<circle cx="40.80" cy="341.00" r="1.70" fill="#808080"/>
<circle cx="65.08" cy="345.90" r="1.70" fill="#808080"/>
<circle cx="89.36" cy="342.00" r="1.70" fill="#808080"/>
<circle cx="113.64" cy="338.00" r="1.70" fill="#808080"/>
<polygon points="40.80,338.16 42.64,341.36 38.96,341.36" fill="#949494"/>
<polygon points="65.08,344.06 66.92,347.26 63.24,347.26" fill="#949494"/>
<polygon points="89.36,338.66 91.20,341.86 87.52,341.86" fill="#949494"/>
<polygon points="113.64,330.16 115.48,333.36 111.80,333.36" fill="#949494"/>
<rect x="39.30" y="340.50" width="3.00" height="3.00" fill="#fff" stroke="#111" stroke-width="1.05"/>
<rect x="63.58" y="344.40" width="3.00" height="3.00" fill="#fff" stroke="#111" stroke-width="1.05"/>
<rect x="87.86" y="333.20" width="3.00" height="3.00" fill="#fff" stroke="#111" stroke-width="1.05"/>
<rect x="112.14" y="340.50" width="3.00" height="3.00" fill="#fff" stroke="#111" stroke-width="1.05"/>
<rect x="39.00" y="341.90" width="3.60" height="3.60" fill="#111"/>
<rect x="63.28" y="344.10" width="3.60" height="3.60" fill="#111"/>
<rect x="87.56" y="296.20" width="3.60" height="3.60" fill="#111"/>
<rect x="111.84" y="318.70" width="3.60" height="3.60" fill="#111"/>
<circle cx="75.30" cy="298.10" r="0.95" fill="#111"/>
<circle cx="78.50" cy="298.10" r="0.95" fill="#111"/>
<circle cx="81.70" cy="298.10" r="0.95" fill="#111"/>
<line x1="108.60" y1="257.80" x2="124.00" y2="257.80" stroke="#111" stroke-width="1.25"/>
<rect x="113.50" y="255.00" width="5.60" height="5.60" fill="#111"/>
<text x="128.90" y="260.10" font-size="7.7" font-style="normal" fill="#1a1a1a" stroke="#1a1a1a" stroke-width="0.22" textLength="9.99" lengthAdjust="spacingAndGlyphs">B6</text>
<line x1="108.60" y1="267.40" x2="124.00" y2="267.40" stroke="#111" stroke-width="1.25"/>
<rect x="114.00" y="265.10" width="4.60" height="4.60" fill="#fff" stroke="#111" stroke-width="1.05"/>
<text x="128.90" y="269.70" font-size="7.7" font-style="italic" fill="#1a1a1a" stroke="#1a1a1a" stroke-width="0.22" textLength="20.19" lengthAdjust="spacingAndGlyphs">Stx11</text>
<text x="149.99" y="267.20" font-size="5.08" font-style="italic" fill="#1a1a1a" stroke="#1a1a1a" stroke-width="0.15">-/-</text>
<line x1="108.60" y1="277.30" x2="124.00" y2="277.30" stroke="#707070" stroke-width="1.25"/>
<polygon points="116.30,274.24 119.36,279.56 113.24,279.56" fill="#707070"/>
<text x="128.90" y="279.60" font-size="7.7" font-style="italic" fill="#1a1a1a" stroke="#1a1a1a" stroke-width="0.22" textLength="28.72" lengthAdjust="spacingAndGlyphs">Rab27a</text>
<text x="158.52" y="277.10" font-size="5.08" font-style="italic" fill="#1a1a1a" stroke="#1a1a1a" stroke-width="0.15">-/-</text>
<line x1="108.60" y1="287.40" x2="124.00" y2="287.40" stroke="#707070" stroke-width="1.25"/>
<circle cx="116.30" cy="287.40" r="2.80" fill="#707070"/>
<text x="128.90" y="289.70" font-size="7.7" font-style="italic" fill="#1a1a1a" stroke="#1a1a1a" stroke-width="0.22" textLength="13.94" lengthAdjust="spacingAndGlyphs">Prf1</text>
<text x="143.74" y="287.20" font-size="5.08" font-style="italic" fill="#1a1a1a" stroke="#1a1a1a" stroke-width="0.15">-/-</text>
<text x="159.40" y="257.40" font-size="14.2" text-anchor="start" font-weight="bold" font-style="normal" fill="#1a1a1a" stroke="#1a1a1a" stroke-width="0.3">E</text>
<line x1="199.70" y1="264.70" x2="199.70" y2="352.10" stroke="#1a1a1a" stroke-width="1.15"/>
<line x1="196.70" y1="351.60" x2="199.70" y2="351.60" stroke="#1a1a1a" stroke-width="0.95"/>
<text x="194.60" y="354.30" font-size="9.0" text-anchor="end" font-weight="normal" font-style="normal" fill="#1a1a1a" stroke="#1a1a1a" stroke-width="0.22">0</text>
<line x1="196.70" y1="330.00" x2="199.70" y2="330.00" stroke="#1a1a1a" stroke-width="0.95"/>
<text x="194.60" y="332.70" font-size="9.0" text-anchor="end" font-weight="normal" font-style="normal" fill="#1a1a1a" stroke="#1a1a1a" stroke-width="0.22">300</text>
<line x1="196.70" y1="308.40" x2="199.70" y2="308.40" stroke="#1a1a1a" stroke-width="0.95"/>
<text x="194.60" y="311.10" font-size="9.0" text-anchor="end" font-weight="normal" font-style="normal" fill="#1a1a1a" stroke="#1a1a1a" stroke-width="0.22">600</text>
<line x1="196.70" y1="286.80" x2="199.70" y2="286.80" stroke="#1a1a1a" stroke-width="0.95"/>
<text x="194.60" y="289.50" font-size="9.0" text-anchor="end" font-weight="normal" font-style="normal" fill="#1a1a1a" stroke="#1a1a1a" stroke-width="0.22">900</text>
<line x1="196.70" y1="265.20" x2="199.70" y2="265.20" stroke="#1a1a1a" stroke-width="0.95"/>
<text x="194.60" y="267.90" font-size="9.0" text-anchor="end" font-weight="normal" font-style="normal" fill="#1a1a1a" stroke="#1a1a1a" stroke-width="0.22">1200</text>
<line x1="199.20" y1="351.60" x2="325.50" y2="351.60" stroke="#1a1a1a" stroke-width="1.15"/>
<line x1="200.40" y1="333.70" x2="325.50" y2="333.70" stroke="#222" stroke-width="1.15" stroke-dasharray="4.3,2.3"/>
<rect x="203.60" y="337.40" width="6.40" height="14.20" fill="#000" stroke="#111" stroke-width="0.95"/>
<line x1="216.40" y1="337.00" x2="216.40" y2="341.70" stroke="#1a1a1a" stroke-width="1.0"/>
<line x1="214.80" y1="337.00" x2="218.00" y2="337.00" stroke="#1a1a1a" stroke-width="1.1"/>
<rect x="213.20" y="341.70" width="6.40" height="9.90" fill="#fff" stroke="#111" stroke-width="0.95"/>
<line x1="225.50" y1="304.90" x2="225.50" y2="316.60" stroke="#1a1a1a" stroke-width="1.0"/>
<line x1="223.90" y1="304.90" x2="227.10" y2="304.90" stroke="#1a1a1a" stroke-width="1.1"/>
<rect x="222.30" y="316.60" width="6.40" height="35.00" fill="#b0b0b0" stroke="#111" stroke-width="0.95"/>
<line x1="234.70" y1="291.50" x2="234.70" y2="297.00" stroke="#1a1a1a" stroke-width="1.0"/>
<line x1="233.10" y1="291.50" x2="236.30" y2="291.50" stroke="#1a1a1a" stroke-width="1.1"/>
<rect x="231.50" y="297.00" width="6.40" height="54.60" fill="#555555" stroke="#111" stroke-width="0.95"/>
<line x1="249.70" y1="334.10" x2="249.70" y2="341.80" stroke="#1a1a1a" stroke-width="1.0"/>
<line x1="248.10" y1="334.10" x2="251.30" y2="334.10" stroke="#1a1a1a" stroke-width="1.1"/>
<rect x="246.50" y="341.80" width="6.40" height="9.80" fill="#000" stroke="#111" stroke-width="0.95"/>
<line x1="259.20" y1="333.40" x2="259.20" y2="338.70" stroke="#1a1a1a" stroke-width="1.0"/>
<line x1="257.60" y1="333.40" x2="260.80" y2="333.40" stroke="#1a1a1a" stroke-width="1.1"/>
<rect x="256.00" y="338.70" width="6.40" height="12.90" fill="#fff" stroke="#111" stroke-width="0.95"/>
<line x1="268.60" y1="278.30" x2="268.60" y2="293.40" stroke="#1a1a1a" stroke-width="1.0"/>
<line x1="267.00" y1="278.30" x2="270.20" y2="278.30" stroke="#1a1a1a" stroke-width="1.1"/>
<rect x="265.40" y="293.40" width="6.40" height="58.20" fill="#b0b0b0" stroke="#111" stroke-width="0.95"/>
<line x1="277.80" y1="282.10" x2="277.80" y2="300.40" stroke="#1a1a1a" stroke-width="1.0"/>
<line x1="276.20" y1="282.10" x2="279.40" y2="282.10" stroke="#1a1a1a" stroke-width="1.1"/>
<rect x="274.60" y="300.40" width="6.40" height="51.20" fill="#555555" stroke="#111" stroke-width="0.95"/>
<line x1="293.40" y1="347.30" x2="293.40" y2="348.30" stroke="#1a1a1a" stroke-width="1.0"/>
<line x1="291.80" y1="347.30" x2="295.00" y2="347.30" stroke="#1a1a1a" stroke-width="1.1"/>
<rect x="290.20" y="348.30" width="6.40" height="3.30" fill="#000" stroke="#111" stroke-width="0.95"/>
<line x1="302.10" y1="293.70" x2="302.10" y2="305.40" stroke="#1a1a1a" stroke-width="1.0"/>
<line x1="300.50" y1="293.70" x2="303.70" y2="293.70" stroke="#1a1a1a" stroke-width="1.1"/>
<rect x="298.90" y="305.40" width="6.40" height="46.20" fill="#fff" stroke="#111" stroke-width="0.95"/>
<line x1="311.70" y1="328.00" x2="311.70" y2="336.40" stroke="#1a1a1a" stroke-width="1.0"/>
<line x1="310.10" y1="328.00" x2="313.30" y2="328.00" stroke="#1a1a1a" stroke-width="1.1"/>
<rect x="308.50" y="336.40" width="6.40" height="15.20" fill="#b0b0b0" stroke="#111" stroke-width="0.95"/>
<circle cx="232.85" cy="287.30" r="0.85" fill="#111"/>
<circle cx="236.15" cy="287.30" r="0.85" fill="#111"/>
<circle cx="265.00" cy="274.80" r="0.85" fill="#111"/>
<circle cx="268.30" cy="274.80" r="0.85" fill="#111"/>
<circle cx="271.60" cy="274.80" r="0.85" fill="#111"/>
<circle cx="274.50" cy="278.70" r="0.85" fill="#111"/>
<circle cx="277.80" cy="278.70" r="0.85" fill="#111"/>
<circle cx="281.10" cy="278.70" r="0.85" fill="#111"/>
<circle cx="298.60" cy="290.00" r="0.85" fill="#111"/>
<circle cx="301.90" cy="290.00" r="0.85" fill="#111"/>
<circle cx="305.20" cy="290.00" r="0.85" fill="#111"/>
<text x="220.40" y="361.60" font-size="9.5" text-anchor="middle" font-weight="normal" font-style="normal" fill="#1a1a1a" stroke="#1a1a1a" stroke-width="0.22">day 8</text>
<text x="263.50" y="361.60" font-size="9.5" text-anchor="middle" font-weight="normal" font-style="normal" fill="#1a1a1a" stroke="#1a1a1a" stroke-width="0.22">day 12</text>
<text x="307.30" y="361.60" font-size="9.5" text-anchor="middle" font-weight="normal" font-style="normal" fill="#1a1a1a" stroke="#1a1a1a" stroke-width="0.22">day 20</text>
<text x="263.60" y="372.80" font-size="9.65" text-anchor="middle" font-weight="normal" font-style="normal" fill="#1a1a1a" stroke="#1a1a1a" stroke-width="0.22">time after infection (d)</text>
<text x="172.60" y="308.10" font-size="9.8" text-anchor="middle" font-weight="normal" font-style="normal" fill="#1a1a1a" stroke="#1a1a1a" stroke-width="0.22" transform="rotate(-90 172.60 308.10)">ASAT (U/L)</text>
<line x1="352.50" y1="264.70" x2="352.50" y2="352.70" stroke="#1a1a1a" stroke-width="1.15"/>
<line x1="349.30" y1="352.20" x2="352.50" y2="352.20" stroke="#1a1a1a" stroke-width="0.95"/>
<text x="347.90" y="354.90" font-size="9.0" text-anchor="end" font-weight="normal" font-style="normal" fill="#1a1a1a" stroke="#1a1a1a" stroke-width="0.22">0</text>
<line x1="349.30" y1="334.80" x2="352.50" y2="334.80" stroke="#1a1a1a" stroke-width="0.95"/>
<text x="347.90" y="337.50" font-size="9.0" text-anchor="end" font-weight="normal" font-style="normal" fill="#1a1a1a" stroke="#1a1a1a" stroke-width="0.22">2</text>
<line x1="349.30" y1="317.40" x2="352.50" y2="317.40" stroke="#1a1a1a" stroke-width="0.95"/>
<text x="347.90" y="320.10" font-size="9.0" text-anchor="end" font-weight="normal" font-style="normal" fill="#1a1a1a" stroke="#1a1a1a" stroke-width="0.22">4</text>
<line x1="349.30" y1="300.00" x2="352.50" y2="300.00" stroke="#1a1a1a" stroke-width="0.95"/>
<text x="347.90" y="302.70" font-size="9.0" text-anchor="end" font-weight="normal" font-style="normal" fill="#1a1a1a" stroke="#1a1a1a" stroke-width="0.22">6</text>
<line x1="349.30" y1="282.60" x2="352.50" y2="282.60" stroke="#1a1a1a" stroke-width="0.95"/>
<text x="347.90" y="285.30" font-size="9.0" text-anchor="end" font-weight="normal" font-style="normal" fill="#1a1a1a" stroke="#1a1a1a" stroke-width="0.22">8</text>
<line x1="349.30" y1="265.20" x2="352.50" y2="265.20" stroke="#1a1a1a" stroke-width="0.95"/>
<text x="347.90" y="267.90" font-size="9.0" text-anchor="end" font-weight="normal" font-style="normal" fill="#1a1a1a" stroke="#1a1a1a" stroke-width="0.22">10</text>
<line x1="352.00" y1="352.20" x2="478.00" y2="352.20" stroke="#1a1a1a" stroke-width="1.15"/>
<line x1="353.20" y1="317.40" x2="477.60" y2="317.40" stroke="#222" stroke-width="1.15" stroke-dasharray="4.3,2.3"/>
<rect x="356.90" y="323.70" width="6.50" height="28.50" fill="#000" stroke="#111" stroke-width="0.95"/>
<line x1="368.65" y1="322.70" x2="368.65" y2="326.30" stroke="#1a1a1a" stroke-width="1.0"/>
<line x1="366.95" y1="322.70" x2="370.35" y2="322.70" stroke="#1a1a1a" stroke-width="1.1"/>
<rect x="365.40" y="326.30" width="6.50" height="25.90" fill="#fff" stroke="#111" stroke-width="0.95"/>
<rect x="375.20" y="308.40" width="6.50" height="43.80" fill="#b0b0b0" stroke="#111" stroke-width="0.95"/>
<line x1="387.65" y1="297.60" x2="387.65" y2="300.30" stroke="#1a1a1a" stroke-width="1.0"/>
<line x1="385.95" y1="297.60" x2="389.35" y2="297.60" stroke="#1a1a1a" stroke-width="1.1"/>
<rect x="384.40" y="300.30" width="6.50" height="51.90" fill="#555555" stroke="#111" stroke-width="0.95"/>
<line x1="402.55" y1="318.00" x2="402.55" y2="325.20" stroke="#1a1a1a" stroke-width="1.0"/>
<line x1="400.85" y1="318.00" x2="404.25" y2="318.00" stroke="#1a1a1a" stroke-width="1.1"/>
<rect x="399.30" y="325.20" width="6.50" height="27.00" fill="#000" stroke="#111" stroke-width="0.95"/>
<line x1="411.85" y1="315.00" x2="411.85" y2="323.00" stroke="#1a1a1a" stroke-width="1.0"/>
<line x1="410.15" y1="315.00" x2="413.55" y2="315.00" stroke="#1a1a1a" stroke-width="1.1"/>
<rect x="408.60" y="323.00" width="6.50" height="29.20" fill="#fff" stroke="#111" stroke-width="0.95"/>
<line x1="421.15" y1="280.40" x2="421.15" y2="289.90" stroke="#1a1a1a" stroke-width="1.0"/>
<line x1="419.45" y1="280.40" x2="422.85" y2="280.40" stroke="#1a1a1a" stroke-width="1.1"/>
<rect x="417.90" y="289.90" width="6.50" height="62.30" fill="#b0b0b0" stroke="#111" stroke-width="0.95"/>
<line x1="430.45" y1="274.00" x2="430.45" y2="283.40" stroke="#1a1a1a" stroke-width="1.0"/>
<line x1="428.75" y1="274.00" x2="432.15" y2="274.00" stroke="#1a1a1a" stroke-width="1.1"/>
<rect x="427.20" y="283.40" width="6.50" height="68.80" fill="#555555" stroke="#111" stroke-width="0.95"/>
<line x1="445.65" y1="332.30" x2="445.65" y2="337.10" stroke="#1a1a1a" stroke-width="1.0"/>
<line x1="443.95" y1="332.30" x2="447.35" y2="332.30" stroke="#1a1a1a" stroke-width="1.1"/>
<rect x="442.40" y="337.10" width="6.50" height="15.10" fill="#000" stroke="#111" stroke-width="0.95"/>
<line x1="454.55" y1="292.70" x2="454.55" y2="298.80" stroke="#1a1a1a" stroke-width="1.0"/>
<line x1="452.85" y1="292.70" x2="456.25" y2="292.70" stroke="#1a1a1a" stroke-width="1.1"/>
<rect x="451.30" y="298.80" width="6.50" height="53.40" fill="#fff" stroke="#111" stroke-width="0.95"/>
<line x1="463.85" y1="270.90" x2="463.85" y2="303.50" stroke="#1a1a1a" stroke-width="1.0"/>
<line x1="462.15" y1="270.90" x2="465.55" y2="270.90" stroke="#1a1a1a" stroke-width="1.1"/>
<rect x="460.60" y="303.50" width="6.50" height="48.70" fill="#b0b0b0" stroke="#111" stroke-width="0.95"/>
<circle cx="376.75" cy="304.30" r="0.85" fill="#111"/>
<circle cx="380.05" cy="304.30" r="0.85" fill="#111"/>
<circle cx="384.10" cy="293.80" r="0.85" fill="#111"/>
<circle cx="387.40" cy="293.80" r="0.85" fill="#111"/>
<circle cx="390.70" cy="293.80" r="0.85" fill="#111"/>
<circle cx="417.80" cy="276.50" r="0.85" fill="#111"/>
<circle cx="421.10" cy="276.50" r="0.85" fill="#111"/>
<circle cx="424.40" cy="276.50" r="0.85" fill="#111"/>
<circle cx="426.70" cy="270.00" r="0.85" fill="#111"/>
<circle cx="430.00" cy="270.00" r="0.85" fill="#111"/>
<circle cx="433.30" cy="270.00" r="0.85" fill="#111"/>
<circle cx="455.10" cy="288.60" r="0.85" fill="#111"/>
<text x="373.20" y="361.60" font-size="9.5" text-anchor="middle" font-weight="normal" font-style="normal" fill="#1a1a1a" stroke="#1a1a1a" stroke-width="0.22">day 8</text>
<text x="416.20" y="361.60" font-size="9.5" text-anchor="middle" font-weight="normal" font-style="normal" fill="#1a1a1a" stroke="#1a1a1a" stroke-width="0.22">day 12</text>
<text x="459.20" y="361.60" font-size="9.5" text-anchor="middle" font-weight="normal" font-style="normal" fill="#1a1a1a" stroke="#1a1a1a" stroke-width="0.22">day 20</text>
<text x="416.30" y="372.80" font-size="9.65" text-anchor="middle" font-weight="normal" font-style="normal" fill="#1a1a1a" stroke="#1a1a1a" stroke-width="0.22">time after infection (d)</text>
<text x="334.50" y="308.00" font-size="9.6" text-anchor="middle" fill="#1a1a1a" stroke="#1a1a1a" stroke-width="0.22" transform="rotate(-90 334.50 308.00)">LDH (*10<tspan font-size="5.95" dy="-3.46">3</tspan><tspan dy="3.46"> U/L)</tspan></text>
<rect x="468.30" y="246.20" width="11.00" height="5.10" fill="#000" stroke="#111" stroke-width="0.95"/>
<text x="481.10" y="251.45" font-size="7.4" font-style="normal" fill="#1a1a1a" stroke="#1a1a1a" stroke-width="0.22" textLength="9.60" lengthAdjust="spacingAndGlyphs">B6</text>
<rect x="468.30" y="254.00" width="11.00" height="5.00" fill="#fff" stroke="#111" stroke-width="0.95"/>
<text x="481.10" y="258.40" font-size="7.4" font-style="italic" fill="#1a1a1a" stroke="#1a1a1a" stroke-width="0.22" textLength="19.40" lengthAdjust="spacingAndGlyphs">Stx11</text>
<text x="501.40" y="255.90" font-size="4.88" font-style="italic" fill="#1a1a1a" stroke="#1a1a1a" stroke-width="0.15">-/-</text>
<rect x="468.30" y="261.70" width="11.00" height="4.90" fill="#b0b0b0" stroke="#111" stroke-width="0.95"/>
<text x="481.10" y="266.05" font-size="7.4" font-style="italic" fill="#1a1a1a" stroke="#1a1a1a" stroke-width="0.22" textLength="27.60" lengthAdjust="spacingAndGlyphs">Rab27a</text>
<text x="509.60" y="263.55" font-size="4.88" font-style="italic" fill="#1a1a1a" stroke="#1a1a1a" stroke-width="0.15">-/-</text>
<rect x="468.30" y="269.50" width="11.00" height="5.30" fill="#555555" stroke="#111" stroke-width="0.95"/>
<text x="481.10" y="274.05" font-size="7.4" font-style="italic" fill="#1a1a1a" stroke="#1a1a1a" stroke-width="0.22" textLength="13.40" lengthAdjust="spacingAndGlyphs">Prf1</text>
<text x="495.40" y="271.55" font-size="4.88" font-style="italic" fill="#1a1a1a" stroke="#1a1a1a" stroke-width="0.15">-/-</text>
</svg>
</body></html>
